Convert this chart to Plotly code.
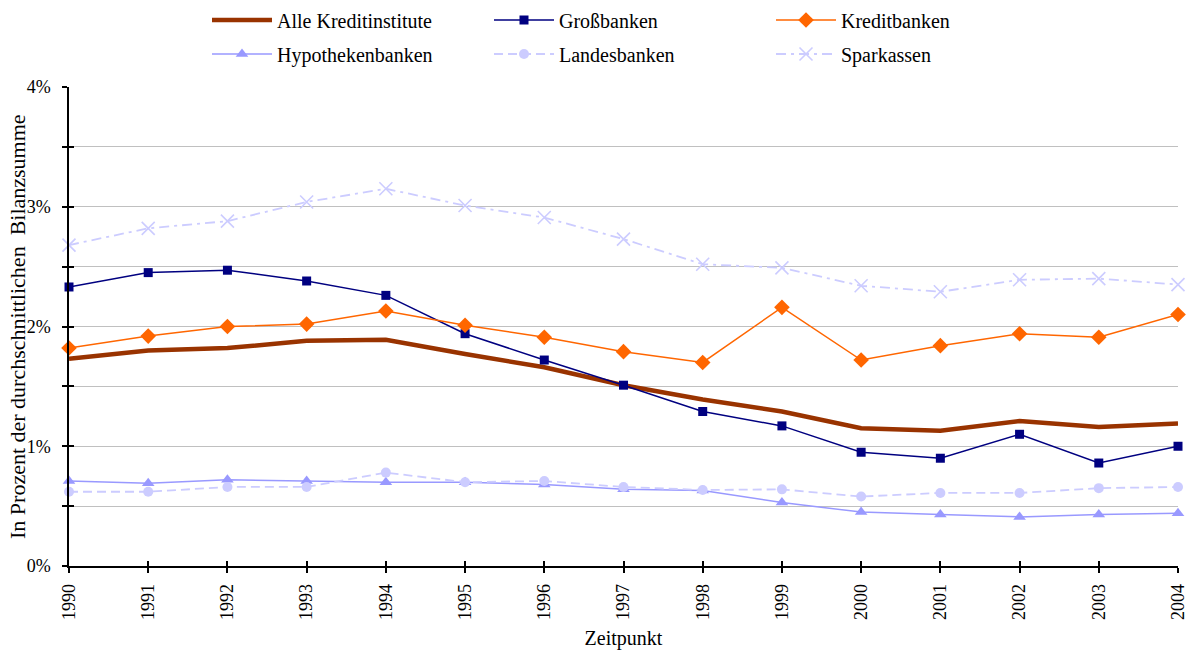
import plotly.graph_objects as go

years = [1990, 1991, 1992, 1993, 1994, 1995, 1996, 1997, 1998, 1999, 2000, 2001, 2002, 2003, 2004]

alle_kreditinstitute = [1.73, 1.80, 1.82, 1.88, 1.89, 1.77, 1.66, 1.51, 1.39, 1.29, 1.15, 1.13, 1.21, 1.16, 1.19]
grossbanken = [2.33, 2.45, 2.47, 2.38, 2.26, 1.94, 1.72, 1.51, 1.29, 1.17, 0.95, 0.90, 1.10, 0.86, 1.00]
kreditbanken = [1.82, 1.92, 2.00, 2.02, 2.13, 2.01, 1.91, 1.79, 1.70, 2.16, 1.72, 1.84, 1.94, 1.91, 2.10]
hypothekenbanken = [0.71, 0.69, 0.72, 0.71, 0.70, 0.70, 0.68, 0.64, 0.63, 0.53, 0.45, 0.43, 0.41, 0.43, 0.44]
landesbanken = [0.62, 0.62, 0.66, 0.66, 0.78, 0.70, 0.71, 0.66, 0.635, 0.64, 0.58, 0.61, 0.61, 0.65, 0.66]
sparkassen = [2.68, 2.82, 2.88, 3.04, 3.15, 3.01, 2.91, 2.73, 2.52, 2.49, 2.34, 2.29, 2.39, 2.40, 2.35]

y_tickvals = [0, 0.5, 1, 1.5, 2, 2.5, 3, 3.5, 4]
y_ticktext = ["0%", "", "1%", "", "2%", "", "3%", "", "4%"]

FONT = "Liberation Serif"
W, H = 1192, 650
M_L, M_R, M_T, M_B = 69, 14, 87, 84

fig = go.Figure()

series = [
    dict(name="Alle Kreditinstitute", y=alle_kreditinstitute, color="#993300", width=4.5,
         dash="solid", mode="lines", symbol=None, size=0, legend="legend"),
    dict(name="Großbanken", y=grossbanken, color="#000080", width=1.5,
         dash="solid", mode="lines+markers", symbol="square", size=9, legend="legend"),
    dict(name="Kreditbanken", y=kreditbanken, color="#FF6600", width=1.5,
         dash="solid", mode="lines+markers", symbol="diamond", size=12, legend="legend"),
    dict(name="Hypothekenbanken", y=hypothekenbanken, color="#9999FF", width=1.5,
         dash="solid", mode="lines+markers", symbol="triangle-up", size=11, legend="legend2"),
    dict(name="Landesbanken", y=landesbanken, color="#CCCCFF", width=1.8,
         dash="9px,5px", mode="lines+markers", symbol="circle", size=10, legend="legend2"),
    dict(name="Sparkassen", y=sparkassen, color="#CCCCFF", width=1.8,
         dash="10px,5px,3px,5px", mode="lines+markers", symbol="x-thin", size=13, legend="legend2"),
]

for s in series:
    marker = dict(color=s["color"], size=s["size"])
    if s["symbol"]:
        marker["symbol"] = s["symbol"]
        if s["symbol"] == "x-thin":
            marker["line"] = dict(color=s["color"], width=1.6)
    fig.add_trace(go.Scatter(
        x=years, y=s["y"], name=s["name"], mode=s["mode"],
        line=dict(color=s["color"], width=s["width"], dash=s["dash"]),
        marker=marker, cliponaxis=False, legend=s["legend"],
    ))

# overlay axes carrying the inward half of the crossing tick marks
fig.add_trace(go.Scatter(x=[None], y=[None], xaxis="x2", yaxis="y2",
                         showlegend=False, hoverinfo="skip"))

axis_font = dict(family=FONT, size=18, color="black")
legend_common = dict(
    orientation="h", xref="container", yref="container",
    xanchor="left", yanchor="middle",
    font=dict(family=FONT, size=20, color="black"),
    entrywidth=207, entrywidthmode="pixels", itemwidth=60,
    bgcolor="rgba(0,0,0,0)", tracegroupgap=0,
)

plot_w = W - M_L - M_R
plot_h = H - M_T - M_B

fig.update_layout(
    width=W, height=H,
    margin=dict(l=M_L, r=M_R, t=M_T, b=M_B, autoexpand=False),
    paper_bgcolor="white", plot_bgcolor="white",
    font=dict(family=FONT, color="black"),
    legend=dict(legend_common, x=207 / W, y=1 - 20 / H),
    legend2=dict(legend_common, x=207 / W, y=1 - 54 / H),
    xaxis=dict(
        range=[1990, 2004], tickvals=years, ticktext=[str(y) for y in years],
        tickangle=-90, ticks="outside", ticklen=5, tickwidth=1.5, tickcolor="black",
        showline=True, linecolor="black", linewidth=1.5, showgrid=False, zeroline=False,
        tickfont=axis_font, ticklabelstandoff=4, automargin=False,
        title=dict(text="Zeitpunkt", font=dict(family=FONT, size=20, color="black"), standoff=12),
    ),
    yaxis=dict(
        range=[0, 4], tickvals=y_tickvals, ticktext=y_ticktext,
        ticks="outside", ticklen=5, tickwidth=1.5, tickcolor="black",
        showline=True, linecolor="black", linewidth=1.5,
        showgrid=True, gridcolor="#C0C0C0", gridwidth=1, zeroline=False,
        tickfont=axis_font, ticklabelstandoff=8, automargin=False,
    ),
    xaxis2=dict(
        overlaying="x", range=[1990, 2004], tickvals=years, ticks="inside", ticklen=5,
        tickwidth=1.5, tickcolor="black", showticklabels=False, showgrid=False,
        zeroline=False, showline=False, automargin=False,
    ),
    yaxis2=dict(
        overlaying="y", range=[0, 4], tickvals=y_tickvals, ticks="inside", ticklen=5,
        tickwidth=1.5, tickcolor="black", showticklabels=False, showgrid=False,
        zeroline=False, showline=False, automargin=False,
    ),
)

# vertical y-axis title, placed close to the tick labels
fig.add_annotation(
    text="In Prozent der durchschnittlichen\u00a0\u00a0Bilanzsumme",
    xref="paper", yref="paper",
    x=(17 - M_L) / plot_w, y=(H - M_B - 327) / plot_h,
    xanchor="center", yanchor="middle", textangle=-90, showarrow=False,
    font=dict(family=FONT, size=22, color="black"),
)

fig.write_html("out.html")
